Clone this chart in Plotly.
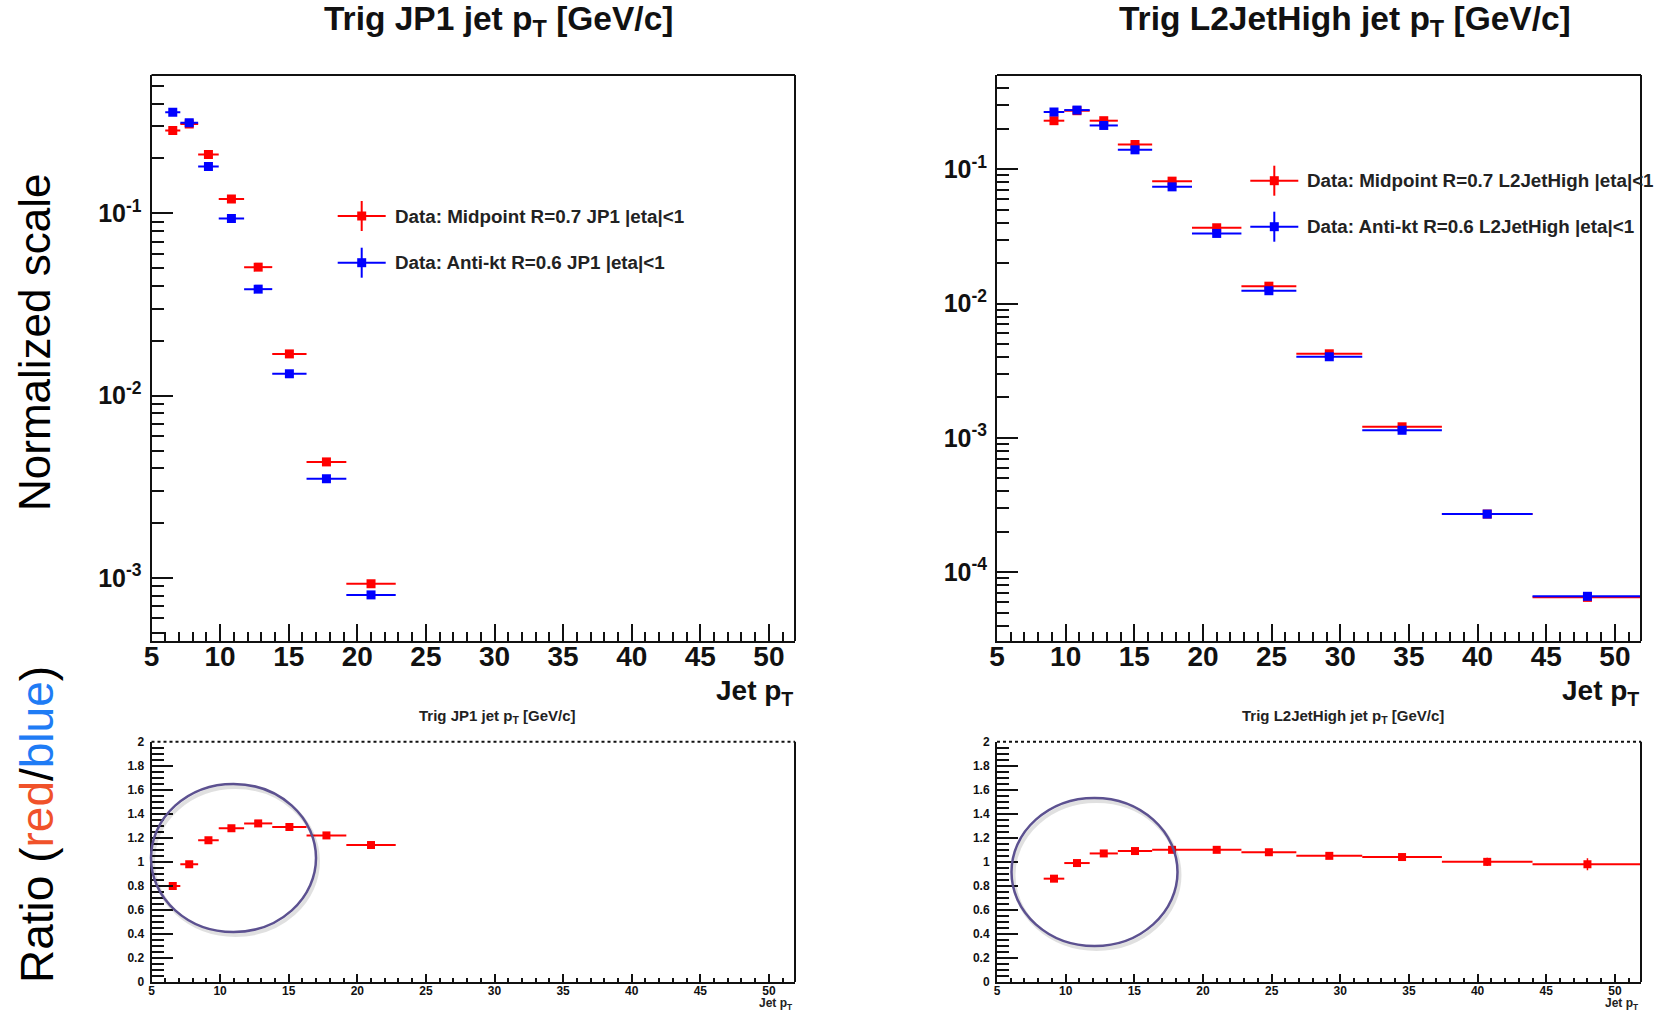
import plotly.graph_objects as go

# ---------------- data ----------------
bin_edges = [6.0, 7.1, 8.4, 9.9, 11.75, 13.8, 16.3, 19.2, 22.8, 26.8, 31.6, 37.4, 44.0, 52.0]

# JP1 trigger: bins 0..7
jp1_first_bin = 0
jp1_midpoint = [0.285, 0.309, 0.210, 0.1198, 0.0507, 0.01694, 0.00433, 0.000929]
jp1_midpoint_err = [0.006, 0.006, 0.005, 0.0035, 0.0017, 0.0006, 0.00017, 0.00004]
jp1_antikt = [0.359, 0.314, 0.181, 0.0936, 0.0384, 0.01318, 0.00350, 0.000807]
jp1_antikt_err = [0.007, 0.006, 0.0045, 0.003, 0.0013, 0.0005, 0.00014, 0.000035]
jp1_ratio = [0.80, 0.98, 1.18, 1.28, 1.32, 1.29, 1.22, 1.14]
jp1_ratio_err = [0.02, 0.02, 0.02, 0.025, 0.025, 0.025, 0.025, 0.03]

# L2JetHigh trigger: bins 2..12
l2_first_bin = 2
l2_midpoint = [0.230, 0.273, 0.230, 0.153, 0.0816, 0.0367, 0.01348, 0.00423, 0.00121, 0.000271, 0.0000650]
l2_midpoint_err = [0.005, 0.006, 0.005, 0.0035, 0.002, 0.0009, 0.00035, 0.00011, 0.00004, 0.00001, 0.000004]
l2_antikt = [0.267, 0.276, 0.212, 0.1396, 0.0740, 0.0333, 0.01247, 0.00402, 0.00114, 0.000271, 0.0000662]
l2_antikt_err = [0.006, 0.006, 0.005, 0.0035, 0.0019, 0.0009, 0.00033, 0.00011, 0.00004, 0.00001, 0.000004]
l2_ratio = [0.86, 0.99, 1.07, 1.09, 1.10, 1.10, 1.08, 1.05, 1.04, 1.00, 0.98]
l2_ratio_err = [0.02, 0.02, 0.02, 0.02, 0.02, 0.025, 0.025, 0.025, 0.03, 0.035, 0.05]

x_tick_labels = ["5", "10", "15", "20", "25", "30", "35", "40", "45", "50"]
ratio_tick_labels = ["0", "0.2", "0.4", "0.6", "0.8", "1", "1.2", "1.4", "1.6", "1.8", "2"]

titles = ["Trig JP1 jet p<sub>T</sub> [GeV/c]", "Trig L2JetHigh jet p<sub>T</sub> [GeV/c]"]
leg_jp1 = ["Data: Midpoint R=0.7 JP1 |eta|<1", "Data: Anti-kt R=0.6 JP1 |eta|<1"]
leg_l2 = ["Data: Midpoint R=0.7 L2JetHigh |eta|<1", "Data: Anti-kt R=0.6 L2JetHigh |eta|<1"]

# ---------------- helpers ----------------
W, H = 1661, 1011
FONT = "Liberation Sans, Arial, Helvetica, sans-serif"
RED = "#ff0000"
BLUE = "#0000ff"
FRAME = "#111111"


def px(x):
    return x / W


def py(y):
    return 1 - y / H


def bins(first, n):
    lo = bin_edges[first:first + n]
    hi = bin_edges[first + 1:first + n + 1]
    centers = [(a + b) / 2 for a, b in zip(lo, hi)]
    half = [(b - a) / 2 for a, b in zip(lo, hi)]
    return centers, half


jp1_x, jp1_hw = bins(jp1_first_bin, len(jp1_midpoint))
l2_x, l2_hw = bins(l2_first_bin, len(l2_midpoint))

fig = go.Figure()


def add_series(x, hw, y, yerr, color, xa, ya, msize=9):
    fig.add_trace(go.Scatter(
        x=x, y=y, mode="markers", xaxis=xa, yaxis=ya,
        marker=dict(symbol="square", size=msize, color=color, line=dict(width=0)),
        error_x=dict(type="data", array=hw, symmetric=True, color=color, thickness=2, width=0),
        error_y=dict(type="data", array=yerr, symmetric=True, color=color, thickness=1.5, width=0),
        hoverinfo="x+y", showlegend=False,
    ))


add_series(jp1_x, jp1_hw, jp1_midpoint, jp1_midpoint_err, RED, "x", "y")
add_series(jp1_x, jp1_hw, jp1_antikt, jp1_antikt_err, BLUE, "x", "y")
add_series(l2_x, l2_hw, l2_midpoint, l2_midpoint_err, RED, "x2", "y2")
add_series(l2_x, l2_hw, l2_antikt, l2_antikt_err, BLUE, "x2", "y2")
add_series(jp1_x, jp1_hw, jp1_ratio, jp1_ratio_err, RED, "x3", "y3", msize=8)
add_series(l2_x, l2_hw, l2_ratio, l2_ratio_err, RED, "x4", "y4", msize=8)

# ---------------- axes ----------------
XR = [5, 51.9]
left_dom = [px(151.5), px(795)]
right_dom = [px(997), px(1641)]
top_dom = [py(641), py(75)]
bot_dom = [py(982), py(741.7)]

x_vals = [int(v) for v in x_tick_labels]


def xaxis_cfg(dom, anchor, big):
    return dict(
        domain=dom, anchor=anchor, range=XR, type="linear", automargin=False,
        tickmode="array", tickvals=x_vals, ticktext=x_tick_labels,
        ticks="inside", ticklen=17 if big else 8, tickwidth=1.5, tickcolor=FRAME,
        minor=dict(tickmode="linear", tick0=5, dtick=1, ticks="inside",
                   ticklen=9 if big else 4, tickwidth=1.5, tickcolor=FRAME),
        showline=True, linewidth=2, linecolor=FRAME, mirror=False,
        showgrid=False, zeroline=False,
        tickfont=dict(family=FONT, size=28 if big else 12, color="#111", weight="bold"),
        ticklabelstandoff=-11 if big else -3,
        fixedrange=True,
    )


log_minor = [m * 10.0 ** e for e in range(-6, 1) for m in range(2, 10)]


def ylog_cfg(dom, anchor, rng, decades):
    return dict(
        domain=dom, anchor=anchor, type="log", range=rng, automargin=False,
        tickmode="array",
        tickvals=[10.0 ** d for d in decades],
        ticktext=["10<sup>%d</sup>" % d for d in decades],
        ticks="inside", ticklen=21, tickwidth=1.5, tickcolor=FRAME,
        minor=dict(tickmode="array", tickvals=log_minor, ticks="inside",
                   ticklen=12, tickwidth=1.5, tickcolor=FRAME),
        showline=True, linewidth=2, linecolor=FRAME, mirror=False,
        showgrid=False, zeroline=False,
        tickfont=dict(family=FONT, size=25, color="#111", weight="bold"),
        ticklabelstandoff=3,
        fixedrange=True,
    )


ratio_vals = [float(v) for v in ratio_tick_labels]


def yratio_cfg(dom, anchor):
    return dict(
        domain=dom, anchor=anchor, type="linear", range=[0, 2], automargin=False,
        tickmode="array", tickvals=ratio_vals, ticktext=ratio_tick_labels,
        ticks="inside", ticklen=21, tickwidth=1.5, tickcolor=FRAME,
        minor=dict(tickmode="linear", tick0=0, dtick=0.05, ticks="inside",
                   ticklen=12, tickwidth=1.5, tickcolor=FRAME),
        showline=True, linewidth=2, linecolor=FRAME, mirror=False,
        showgrid=False, zeroline=False,
        tickfont=dict(family=FONT, size=12, color="#111", weight="bold"),
        ticklabelstandoff=3,
        fixedrange=True,
    )


fig.update_layout(
    width=W, height=H, autosize=False,
    margin=dict(l=0, r=0, t=0, b=0, pad=0, autoexpand=False),
    paper_bgcolor="white", plot_bgcolor="white",
    showlegend=False,
    font=dict(family=FONT, color="#111"),
    xaxis=xaxis_cfg(left_dom, "y", True),
    yaxis=ylog_cfg(top_dom, "x", [-3.346, -0.241], [-3, -2, -1]),
    xaxis2=xaxis_cfg(right_dom, "y2", True),
    yaxis2=ylog_cfg(top_dom, "x2", [-4.512, -0.298], [-4, -3, -2, -1]),
    xaxis3=xaxis_cfg(left_dom, "y3", False),
    yaxis3=yratio_cfg(bot_dom, "x3"),
    xaxis4=xaxis_cfg(right_dom, "y4", False),
    yaxis4=yratio_cfg(bot_dom, "x4"),
)

# ---------------- frames (top / right borders) ----------------
shapes = []
for xa, ya, dotted in [("x", "y", False), ("x2", "y2", False), ("x3", "y3", True), ("x4", "y4", True)]:
    xr, yr = xa + " domain", ya + " domain"
    shapes.append(dict(type="line", xref=xr, yref=yr, x0=0, x1=1, y0=1, y1=1,
                       line=dict(color=FRAME, width=2, dash="dot" if dotted else "solid")))
    shapes.append(dict(type="line", xref=xr, yref=yr, x0=1, x1=1, y0=0, y1=1,
                       line=dict(color=FRAME, width=2)))

# ---------------- legends (drawn ROOT-style) ----------------
annotations = []


def legend_entry(cx, cy, color, text):
    shapes.append(dict(type="line", xref="paper", yref="paper",
                       x0=px(cx - 24), x1=px(cx + 24), y0=py(cy), y1=py(cy),
                       line=dict(color=color, width=2)))
    shapes.append(dict(type="line", xref="paper", yref="paper",
                       x0=px(cx), x1=px(cx), y0=py(cy - 15), y1=py(cy + 15),
                       line=dict(color=color, width=2)))
    shapes.append(dict(type="rect", xref="paper", yref="paper",
                       x0=px(cx - 4.5), x1=px(cx + 4.5), y0=py(cy - 4.5), y1=py(cy + 4.5),
                       line=dict(width=0), fillcolor=color))
    annotations.append(dict(xref="paper", yref="paper", x=px(cx + 31), y=py(cy),
                            xanchor="left", yanchor="middle", showarrow=False,
                            text=text, font=dict(family=FONT, size=18.8, color="#222", weight="bold")))


legend_entry(361.7, 216, RED, leg_jp1[0])
legend_entry(361.7, 262.7, BLUE, leg_jp1[1])
legend_entry(1274.3, 180.7, RED, leg_l2[0])
legend_entry(1274.3, 226.7, BLUE, leg_l2[1])

# ---------------- ellipses ----------------
for (x0, x1, y0, y1) in [(151, 316, 784, 932), (1011.5, 1177.5, 798, 946)]:
    shapes.append(dict(type="circle", xref="paper", yref="paper",
                       x0=px(x0 + 2), x1=px(x1 + 2), y0=py(y1 + 3), y1=py(y0 + 3),
                       line=dict(color="rgba(0,0,0,0.12)", width=4)))
    shapes.append(dict(type="circle", xref="paper", yref="paper",
                       x0=px(x0), x1=px(x1), y0=py(y1), y1=py(y0),
                       line=dict(color="#5c5190", width=2.5)))

# ---------------- titles and labels ----------------
annotations += [
    dict(xref="paper", yref="paper", x=px(498), y=py(21), text=titles[0],
         font=dict(family=FONT, size=33.5, color="#111", weight="bold")),
    dict(xref="paper", yref="paper", x=px(1345), y=py(21), text=titles[1],
         font=dict(family=FONT, size=33.5, color="#111", weight="bold")),
    dict(xref="paper", yref="paper", x=px(497), y=py(716), text=titles[0],
         font=dict(family=FONT, size=15, color="#222", weight="bold")),
    dict(xref="paper", yref="paper", x=px(1343), y=py(716), text=titles[1],
         font=dict(family=FONT, size=15, color="#222", weight="bold")),
    dict(xref="paper", yref="paper", x=px(795), y=py(692), xanchor="right", text="Jet p<sub>T</sub>",
         font=dict(family=FONT, size=28, color="#111", weight="bold")),
    dict(xref="paper", yref="paper", x=px(1641), y=py(692), xanchor="right", text="Jet p<sub>T</sub>",
         font=dict(family=FONT, size=28, color="#111", weight="bold")),
    dict(xref="paper", yref="paper", x=px(795), y=py(1004), xanchor="right", text="Jet p<sub>T</sub>",
         font=dict(family=FONT, size=12, color="#222", weight="bold")),
    dict(xref="paper", yref="paper", x=px(1641), y=py(1004), xanchor="right", text="Jet p<sub>T</sub>",
         font=dict(family=FONT, size=12, color="#222", weight="bold")),
    dict(xref="paper", yref="paper", x=px(34), y=py(343), text="Normalized scale", textangle=-90,
         font=dict(family=FONT, size=44, color="#000")),
    dict(xref="paper", yref="paper", x=px(37), y=py(825), textangle=-90,
         text="Ratio (<span style='color:#f0522a'>red</span>/<span style='color:#1f7cf5'>blue</span>)",
         font=dict(family=FONT, size=46, color="#000")),
]
for a in annotations:
    a.setdefault("showarrow", False)
    a.setdefault("xanchor", "center")
    a.setdefault("yanchor", "middle")

fig.update_layout(shapes=shapes, annotations=annotations)

fig.write_html(
    "out.html",
    config={"responsive": False, "displayModeBar": False},
    post_script="document.body.style.margin='0';document.body.style.overflow='hidden';",
)
